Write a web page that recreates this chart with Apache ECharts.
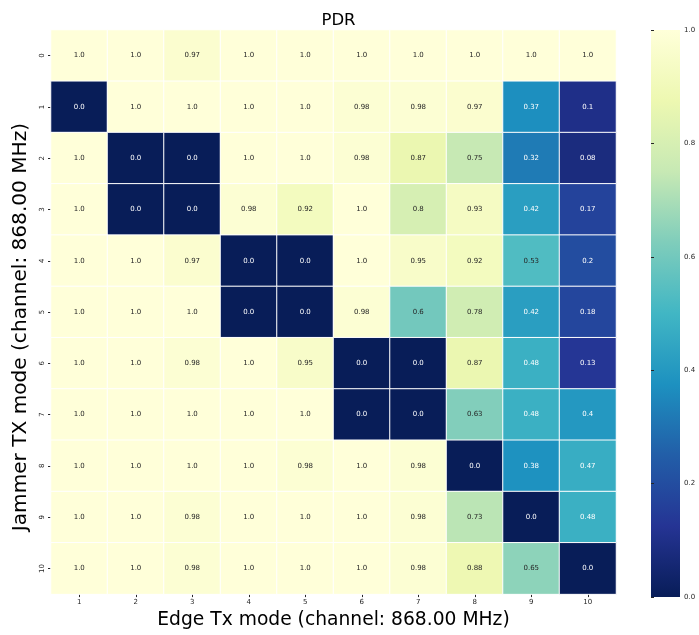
<!DOCTYPE html>
<html>
<head>
<meta charset="utf-8">
<script src="https://cdn.jsdelivr.net/npm/echarts@6/dist/echarts.min.js"></script>
<style>
  html, body { margin: 0; padding: 0; background: #fff; }
  #chart { width: 699px; height: 635px; }
</style>
</head>
<body>
<div id="chart"></div>
<script>
// Edge transmit modes (columns) and jammer transmit modes (rows)
const edgeModes = ['1', '2', '3', '4', '5', '6', '7', '8', '9', '10'];
const jammerModes = ['0', '1', '2', '3', '4', '5', '6', '7', '8', '9', '10'];

// Packet delivery ratio, one row per jammer mode
const pdrRow0  = [1.0, 1.0, 0.97, 1.0, 1.0, 1.0, 1.0, 1.0, 1.0, 1.0];
const pdrRow1  = [0.0, 1.0, 1.0, 1.0, 1.0, 0.98, 0.98, 0.97, 0.37, 0.1];
const pdrRow2  = [1.0, 0.0, 0.0, 1.0, 1.0, 0.98, 0.87, 0.75, 0.32, 0.08];
const pdrRow3  = [1.0, 0.0, 0.0, 0.98, 0.92, 1.0, 0.8, 0.93, 0.42, 0.17];
const pdrRow4  = [1.0, 1.0, 0.97, 0.0, 0.0, 1.0, 0.95, 0.92, 0.53, 0.2];
const pdrRow5  = [1.0, 1.0, 1.0, 0.0, 0.0, 0.98, 0.6, 0.78, 0.42, 0.18];
const pdrRow6  = [1.0, 1.0, 0.98, 1.0, 0.95, 0.0, 0.0, 0.87, 0.48, 0.13];
const pdrRow7  = [1.0, 1.0, 1.0, 1.0, 1.0, 0.0, 0.0, 0.63, 0.48, 0.4];
const pdrRow8  = [1.0, 1.0, 1.0, 1.0, 0.98, 1.0, 0.98, 0.0, 0.38, 0.47];
const pdrRow9  = [1.0, 1.0, 0.98, 1.0, 1.0, 1.0, 0.98, 0.73, 0.0, 0.48];
const pdrRow10 = [1.0, 1.0, 0.98, 1.0, 1.0, 1.0, 0.98, 0.88, 0.65, 0.0];
const pdrRows = [pdrRow0, pdrRow1, pdrRow2, pdrRow3, pdrRow4, pdrRow5,
                 pdrRow6, pdrRow7, pdrRow8, pdrRow9, pdrRow10];

// Colour bar ticks
const colorbarTicks = [0.0, 0.2, 0.4, 0.6, 0.8, 1.0];

// YlGnBu, reversed so low delivery is dark
const ylGnBuR = ['#081d58', '#253494', '#225ea8', '#1d91c0', '#41b6c4',
                 '#7fcdbb', '#c7e9b4', '#edf8b1', '#ffffd9'];

const FONT = 'DejaVu Sans';

function fmt(v) {
  const s = String(v);
  return s.indexOf('.') < 0 ? s + '.0' : s;
}

const cells = [];
pdrRows.forEach((row, r) => {
  row.forEach((v, c) => {
    cells.push({
      value: [c, r, v],
      label: { color: v >= 0.5 ? '#262626' : '#ffffff' }
    });
  });
});

// Colour bar fill: the same ramp as the visual map, bottom (0) to top (1)
const barStops = ylGnBuR.map((c, i) => ({ offset: i / (ylGnBuR.length - 1), color: c }));

const chart = echarts.init(document.getElementById('chart'), null, { renderer: 'canvas' });

chart.setOption({
  animation: false,
  backgroundColor: '#ffffff',
  textStyle: { fontFamily: FONT },
  title: {
    text: 'PDR',
    left: 333.5,
    textAlign: 'center',
    top: 7,
    textStyle: { fontFamily: FONT, fontSize: 16.5, fontWeight: 'normal', color: '#000' }
  },
  grid: [
    { left: 51, right: 83, top: 30, bottom: 38 },
    { left: 651, width: 29, top: 30, height: 567 }
  ],
  xAxis: [
    {
      type: 'category',
      gridIndex: 0,
      data: edgeModes,
      position: 'bottom',
      name: 'Edge Tx mode (channel: 868.00 MHz)',
      nameLocation: 'middle',
      nameGap: 14,
      nameTextStyle: { fontFamily: FONT, fontSize: 18.7, color: '#000' },
      axisLine: { show: false },
      axisTick: { show: true, alignWithLabel: true, length: 3, lineStyle: { color: '#262626' } },
      axisLabel: { fontSize: 7, color: '#262626', margin: 5 },
      splitLine: { show: false }
    },
    {
      type: 'value',
      gridIndex: 1,
      show: false,
      min: 0,
      max: 1
    }
  ],
  yAxis: [
    {
      type: 'category',
      gridIndex: 0,
      data: jammerModes,
      inverse: true,
      name: 'Jammer TX mode (channel: 868.00 MHz)',
      nameLocation: 'middle',
      nameGap: 9,
      nameRotate: 90,
      nameTextStyle: { fontFamily: FONT, fontSize: 20.1, color: '#000', padding: [0, 30, 0, 0] },
      axisLine: { show: false },
      axisTick: { show: true, alignWithLabel: true, length: 3, lineStyle: { color: '#262626' } },
      axisLabel: { fontSize: 7, color: '#262626', margin: 5, rotate: 90 },
      splitLine: { show: false }
    },
    {
      type: 'value',
      gridIndex: 1,
      position: 'right',
      min: colorbarTicks[0],
      max: colorbarTicks[colorbarTicks.length - 1],
      interval: 0.2,
      axisLine: { show: false },
      axisTick: { show: true, length: 3, lineStyle: { color: '#262626', width: 1 } },
      axisLabel: {
        fontSize: 7, color: '#262626', margin: 4,
        formatter: v => v.toFixed(1)
      },
      splitLine: { show: false }
    }
  ],
  visualMap: {
    type: 'continuous',
    show: false,
    seriesIndex: 0,
    min: 0,
    max: 1,
    inRange: { color: ylGnBuR }
  },
  graphic: [
    {
      type: 'rect',
      left: 651,
      top: 30,
      silent: true,
      z: 0,
      shape: { width: 29, height: 567 },
      style: { fill: new echarts.graphic.LinearGradient(0, 1, 0, 0, barStops) }
    }
  ],
  series: [
    {
      type: 'heatmap',
      xAxisIndex: 0,
      yAxisIndex: 0,
      data: cells,
      itemStyle: { borderColor: '#ffffff', borderWidth: 1 },
      label: {
        show: true,
        fontFamily: FONT,
        fontSize: 7,
        formatter: p => fmt(p.value[2])
      },
      emphasis: { disabled: true }
    },
    {
      type: 'scatter',
      xAxisIndex: 1,
      yAxisIndex: 1,
      data: [],
      silent: true
    }
  ]
});
</script>
</body>
</html>
